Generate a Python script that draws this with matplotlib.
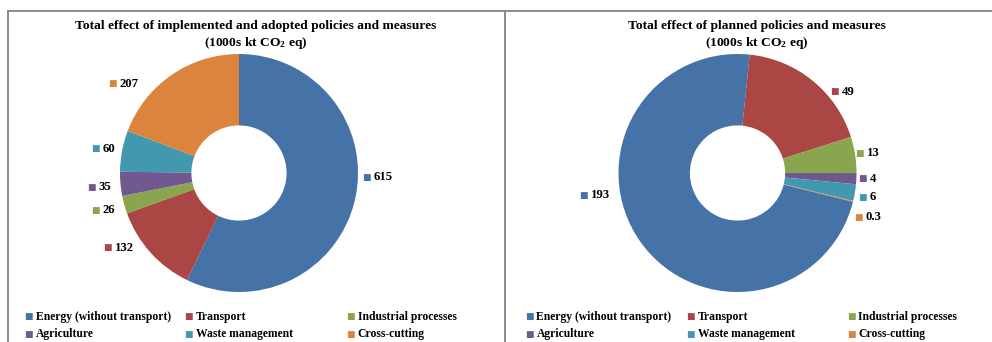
import numpy as np
import matplotlib
matplotlib.use("Agg")
import matplotlib.pyplot as plt
from matplotlib.lines import Line2D

plt.rcParams['font.family'] = ['Liberation Serif', 'DejaVu Sans']
plt.rcParams['font.weight'] = 'bold'
plt.rcParams['mathtext.fontset'] = 'custom'
plt.rcParams['mathtext.rm'] = 'Liberation Serif:bold'
plt.rcParams['mathtext.it'] = 'Liberation Serif:bold'
plt.rcParams['mathtext.bf'] = 'Liberation Serif:bold'

# sectors and their colours
categories = ["Energy (without transport)", "Transport", "Industrial processes",
              "Agriculture", "Waste management", "Cross-cutting"]
colors = ["#4572A7", "#AA4643", "#89A54E", "#71588F", "#4198AF", "#DB843D"]

# effects in 1000s kt CO2 eq
implemented = [615, 132, 26, 35, 60, 207]
implemented_labels = ["615", "132", "26", "35", "60", "207"]
planned = [193, 49, 13, 4, 6, 0.3]
planned_labels = ["193", "49", "13", "4", "6", "0.3"]

titles = ["Total effect of implemented and adopted policies and measures\n(1000s kt CO$_2$ eq)",
          "Total effect of planned policies and measures\n(1000s kt CO$_2$ eq)"]

# where the value labels sit, in pie radius units
impl_label_pos = [(1.067, -0.034), (-1.109, -0.630), (-1.210, -0.311),
                  (-1.244, -0.118), (-1.210, 0.202), (-1.067, 0.748)]
plan_label_pos = [(-1.298, -0.185), (0.811, 0.681), (1.021, 0.168),
                  (1.046, -0.050), (1.046, -0.202), (1.013, -0.370)]

W, H = 992, 342
fig = plt.figure(figsize=(W / 100, H / 100), dpi=100)


def px_axes(cx, cy, r):
    # axes box (figure fraction) for a pie centred at pixel (cx, cy), top-left origin
    return fig.add_axes([(cx - r) / W, (H - cy - r) / H, 2 * r / W, 2 * r / H])


# panel frames
frame_kw = dict(color="#8a8a8a", lw=1.4, transform=fig.transFigure, clip_on=False)
def fline(x0, y0, x1, y1):
    fig.add_artist(Line2D([x0 / W, x1 / W], [1 - y0 / H, 1 - y1 / H], **frame_kw))

fline(8, 11, 505, 11)
fline(8, 11, 8, 350)
fline(505, 11, 505, 350)
fline(505, 11, 992, 11)

panels = [
    dict(cx=239, vals=implemented, labs=implemented_labels, pos=impl_label_pos,
         start=90, title_x=256, leg_x=[28, 188, 350]),
    dict(cx=737.5, vals=planned, labs=planned_labels, pos=plan_label_pos,
         start=-14, title_x=757, leg_x=[529, 690, 851]),
]

R = 119
for p, title in zip(panels, titles):
    ax = px_axes(p["cx"], 173, R)
    ax.pie(p["vals"], colors=colors, startangle=p["start"], counterclock=False,
           radius=1, wedgeprops=dict(width=0.6, linewidth=0))
    ax.set_xlim(-1, 1)
    ax.set_ylim(-1, 1)
    ax.set_aspect("auto")
    ax.axis("off")

    for (x, y), lab, c in zip(p["pos"], p["labs"], colors):
        ax.text(x, y, "\u25A0", color=c, fontsize=6.5, family="DejaVu Sans",
                ha="center", va="center", clip_on=False)
        ax.annotate(lab, (x, y), xytext=(5.5, 0), textcoords="offset points",
                    fontsize=9.2, fontweight="bold", ha="left", va="center",
                    annotation_clip=False)

    fig.text(p["title_x"] / W, 1 - 35.5 / H, title, ha="center", va="center",
             fontsize=9.7, fontweight="bold", linespacing=1.35)

    # legend, three columns by two rows
    for i, (name, c) in enumerate(zip(categories, colors)):
        lx = p["leg_x"][i % 3]
        ly = 317 + 17 * (i // 3)
        fig.text(lx / W, 1 - ly / H, "\u25A0", color=c, fontsize=6.5,
                 family="DejaVu Sans", ha="center", va="center")
        fig.text((lx + 7.5) / W, 1 - ly / H, name, fontsize=8.4, fontweight="bold",
                 ha="left", va="center")

fig.savefig("out.png", dpi=100)
